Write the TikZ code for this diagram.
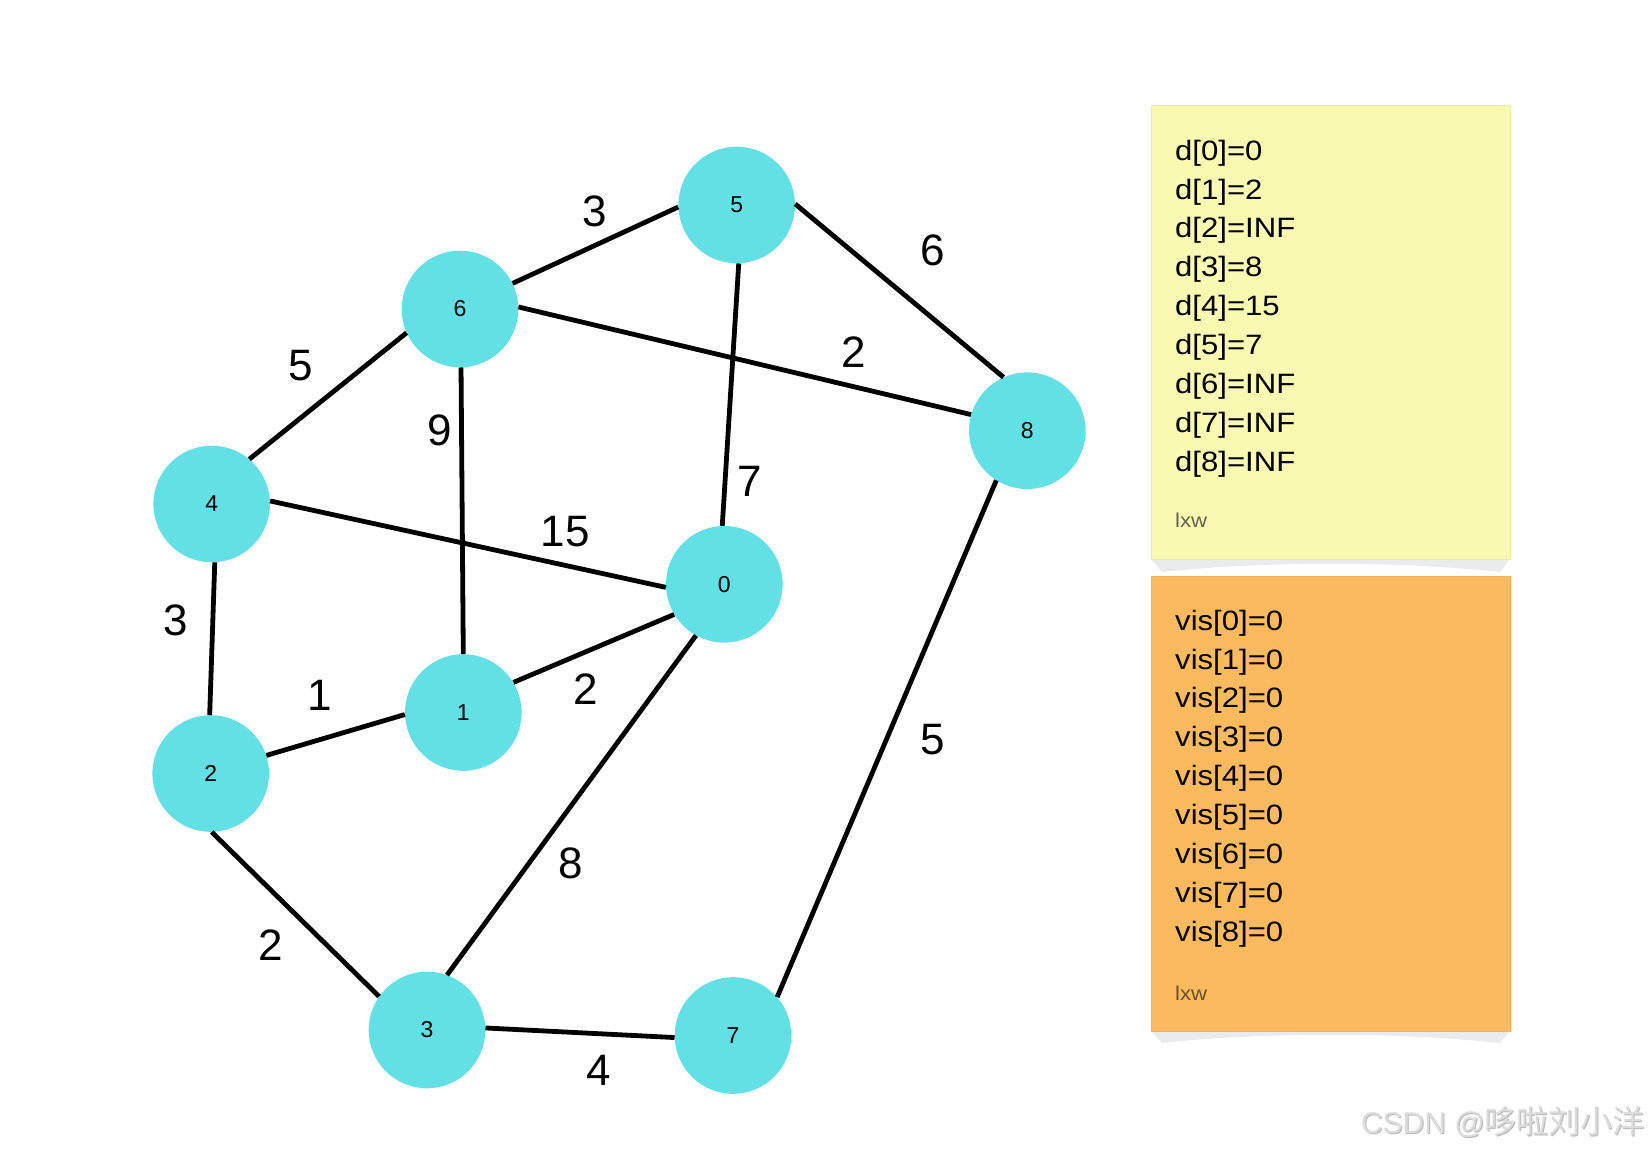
\documentclass[tikz,border=0pt]{standalone}
\usepackage{fontspec}
\setmainfont{Liberation Sans}
\newfontfamily\notefont[FakeStretch=1.11]{Liberation Sans}
\newfontfamily\cjkfont{Noto Sans CJK SC}
\definecolor{nodecyan}{RGB}{98,224,229}
\definecolor{noteyellow}{RGB}{249,249,177}
\definecolor{noteyellowb}{RGB}{238,236,160}
\definecolor{noteorange}{RGB}{252,186,94}
\definecolor{noteorangeb}{RGB}{244,176,86}
\definecolor{shadowgray}{RGB}{233,235,236}
\definecolor{sigyellow}{RGB}{100,100,88}
\definecolor{sigorange}{RGB}{105,80,45}
\definecolor{wmark}{RGB}{220,220,220}
\definecolor{wmarkshadow}{RGB}{185,185,185}
\tikzset{
  vert/.style={circle, fill=nodecyan, minimum size=116.6pt, inner sep=0pt,
    font=\fontsize{23}{23}\selectfont},
  edge/.style={line width=4.8pt, black},
  wlabel/.style={inner sep=0pt, font=\fontsize{44}{44}\selectfont},
  noteline/.style={anchor=base west, inner sep=0pt, font=\notefont\fontsize{28}{28}\selectfont},
  notesig/.style={anchor=base west, inner sep=0pt, font=\notefont\fontsize{20}{20}\selectfont},
}
\begin{document}
\begin{tikzpicture}[x=1pt,y=-1pt]
\useasboundingbox[fill=white] (0,0) rectangle (1651,1156);

% sticky notes
\fill[shadowgray] (1151,559) -- (1510,559) -- (1500,572) .. controls (1400,561) and (1262,561) .. (1162,572) -- cycle;
\filldraw[fill=noteyellow, draw=noteyellowb, line width=1pt] (1151,105) rectangle (1510,559);
\fill[shadowgray] (1151,1031) -- (1510,1031) -- (1500,1043) .. controls (1400,1032) and (1262,1032) .. (1162,1043) -- cycle;
\filldraw[fill=noteorange, draw=noteorangeb, line width=1pt] (1151,576) rectangle (1510,1031);

\node[noteline] (d0) at (1175,160.0) {d[0]=0};
\node[noteline] (d1) at (1175,199.0) {d[1]=2};
\node[noteline] (d2) at (1175,237.9) {d[2]=INF};
\node[noteline] (d3) at (1175,276.9) {d[3]=8};
\node[noteline] (d4) at (1175,315.8) {d[4]=15};
\node[noteline] (d5) at (1175,354.8) {d[5]=7};
\node[noteline] (d6) at (1175,393.8) {d[6]=INF};
\node[noteline] (d7) at (1175,432.7) {d[7]=INF};
\node[noteline] (d8) at (1175,471.7) {d[8]=INF};
\node[notesig, text=sigyellow] (sy) at (1175,527.7) {lxw};

\node[noteline] (v0) at (1175,630.0) {vis[0]=0};
\node[noteline] (v1) at (1175,669.0) {vis[1]=0};
\node[noteline] (v2) at (1175,707.9) {vis[2]=0};
\node[noteline] (v3) at (1175,746.9) {vis[3]=0};
\node[noteline] (v4) at (1175,785.8) {vis[4]=0};
\node[noteline] (v5) at (1175,824.8) {vis[5]=0};
\node[noteline] (v6) at (1175,863.8) {vis[6]=0};
\node[noteline] (v7) at (1175,902.7) {vis[7]=0};
\node[noteline] (v8) at (1175,941.7) {vis[8]=0};
\node[notesig, text=sigorange] (so) at (1175,1000) {lxw};

% vertices
\node[vert] (n0) at (724.3,584.3) {0};
\node[vert] (n1) at (463.3,712.5) {1};
\node[vert] (n2) at (210.7,773.5) {2};
\node[vert] (n3) at (427.0,1030.0) {3};
\node[vert] (n4) at (211.7,504.0) {4};
\node[vert] (n5) at (736.7,205.0) {5};
\node[vert] (n6) at (460.0,309.0) {6};
\node[vert] (n7) at (733.0,1035.5) {7};
\node[vert] (n8) at (1027.3,430.7) {8};

% edges
\draw[edge] (n6.26) -- (n5.182);
\draw[edge] (n5.1) -- (n8.114);
\draw[edge] (n6.2) -- (n8.164);
\draw[edge] (n4.50) -- (n6.204);
\draw[edge] (n6.-89) -- (n1.90);
\draw[edge] (n5.-88) -- (n0.92);
\draw[edge] (n4.3) -- (n0.183);
\draw[edge] (n4.-87) -- (n2.91);
\draw[edge] (n2.18) -- (n1.182);
\draw[edge] (n1.31) -- (n0.211);
\draw[edge] (n8.238) -- (n7.41);
\draw[edge] (n0.241) -- (n3.70);
\draw[edge] (n2.-89) -- (n3.145);
\draw[edge] (n3.2) -- (n7.182);

% weights
\node[wlabel] (w65) at (594.3,211.0) {3};
\node[wlabel] (w58) at (932.7,250.0) {6};
\node[wlabel] (w68) at (854.0,352.3) {2};
\node[wlabel] (w46) at (301.0,365.4) {5};
\node[wlabel] (w61) at (440.0,430.0) {9};
\node[wlabel] (w50) at (749.7,481.2) {7};
\node[wlabel] (w40) at (565.0,531.7) {15};
\node[wlabel] (w42) at (176.0,620.0) {3};
\node[wlabel] (w21) at (320.0,695.7) {1};
\node[wlabel] (w10) at (585.4,689.6) {2};
\node[wlabel] (w87) at (932.7,740.0) {5};
\node[wlabel] (w03) at (570.8,863.3) {8};
\node[wlabel] (w23) at (270.4,945.0) {2};
\node[wlabel] (w37) at (598.9,1070.7) {4};

% watermark
\node[anchor=base east, inner sep=0pt, text=wmarkshadow] (wms) at (1646,1134) {\fontsize{30}{30}\selectfont CSDN @\cjkfont\fontsize{32}{32}\selectfont 哆啦刘小洋};
\node[anchor=base east, inner sep=0pt, text=wmark] (wm) at (1645,1133) {\fontsize{30}{30}\selectfont CSDN @\cjkfont\fontsize{32}{32}\selectfont 哆啦刘小洋};
\end{tikzpicture}
\end{document}
